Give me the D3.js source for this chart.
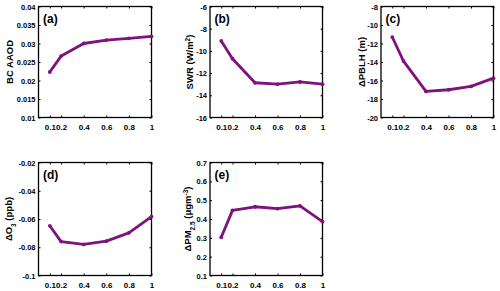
<!DOCTYPE html>
<html>
<head>
<meta charset="utf-8">
<script src="https://cdn.jsdelivr.net/npm/d3@7/dist/d3.min.js"></script>
<style>
  html, body { margin: 0; padding: 0; background: #fff; }
  svg { display: block; font-family: "Liberation Sans", Arial, Helvetica, sans-serif; font-weight: bold; }
</style>
</head>
<body>
<svg id="chart" width="500" height="291"></svg>
<script>
// ---- data ----
const xValues = [0.1, 0.2, 0.4, 0.6, 0.8, 1];
const xTicks = [0.1, 0.2, 0.4, 0.6, 0.8, 1];
const xTickLabels = ["0.1", "0.2", "0.4", "0.6", "0.8", "1"];

const bcAAOD = [0.0223, 0.0266, 0.0300, 0.0309, 0.0314, 0.0319];
const swr    = [-9.1, -10.7, -12.87, -13.0, -12.8, -13.0];
const dPBLH  = [-11.3, -13.9, -17.18, -17.0, -16.64, -15.75];
const dO3    = [-0.0648, -0.0760, -0.0780, -0.0757, -0.0698, -0.0583];
const dPM25  = [0.303, 0.446, 0.465, 0.455, 0.470, 0.386];

const yTicksA = [0.01, 0.015, 0.02, 0.025, 0.03, 0.035, 0.04];
const yTicksB = [-16, -14, -12, -10, -8, -6];
const yTicksC = [-20, -18, -16, -14, -12, -10, -8];
const yTicksD = [-0.1, -0.08, -0.06, -0.04, -0.02];
const yTicksE = [0.1, 0.2, 0.3, 0.4, 0.5, 0.6, 0.7];

const panelLabels = ["(a)", "(b)", "(c)", "(d)", "(e)"];

// ---- layout ----
const svg = d3.select("#chart");
const lineColor = "#7e127e";

const panels = [
  { label: panelLabels[0], values: bcAAOD, ticks: yTicksA, box: [38.5, 151.5, 6.5, 117.5], ylab: [{t: "BC AAOD"}], ylx: 10 },
  { label: panelLabels[1], values: swr,    ticks: yTicksB, box: [210, 322.5, 6.5, 117.5], ylab: [{t: "SWR (W/m"}, {t: "2", sup: true}, {t: ")"}], ylx: 190 },
  { label: panelLabels[2], values: dPBLH,  ticks: yTicksC, box: [381, 493.5, 6.5, 117.5], ylab: [{t: "\u0394PBLH (m)"}], ylx: 362 },
  { label: panelLabels[3], values: dO3,    ticks: yTicksD, box: [38.5, 151.5, 162.5, 275.5], ylab: [{t: "\u0394O"}, {t: "3", sub: true}, {t: " (ppb)"}], ylx: 9 },
  { label: panelLabels[4], values: dPM25,  ticks: yTicksE, box: [210, 322.5, 162.5, 275.5], ylab: [{t: "\u0394PM"}, {t: "2.5", sub: true}, {t: " (\u03bcgm"}, {t: "-3", sup: true}, {t: ")"}], ylx: 188 }
];

const fmt = v => String(+v.toFixed(6));

panels.forEach(p => {
  const [x0, x1, y0, y1] = p.box;
  const x = d3.scaleLinear().domain([0, 1]).range([x0, x1]);
  const y = d3.scaleLinear().domain(d3.extent(p.ticks)).range([y1, y0]);
  const g = svg.append("g");

  // bottom axis
  const bottom = g.append("g").attr("transform", `translate(0,${y1})`)
    .call(d3.axisBottom(x).tickValues(xTicks).tickSizeInner(-2).tickSizeOuter(0)
      .tickFormat((d, i) => xTickLabels[i]));
  bottom.selectAll("text").attr("dy", null).attr("y", 12.5).style("font-size", "8px").style("font-weight", "bold").style("font-family", "inherit");
  // top axis ticks
  g.append("g").attr("transform", `translate(0,${y0})`)
    .call(d3.axisTop(x).tickValues(xTicks).tickSizeInner(-2).tickSizeOuter(0).tickFormat(""));
  // left axis
  const left = g.append("g").attr("transform", `translate(${x0},0)`)
    .call(d3.axisLeft(y).tickValues(p.ticks).tickSizeInner(-2).tickSizeOuter(0).tickFormat(fmt));
  left.selectAll("text").attr("x", -3).attr("dy", "0.35em").style("font-size", "7.5px").style("font-weight", "bold").style("font-family", "inherit");
  // right axis ticks
  g.append("g").attr("transform", `translate(${x1},0)`)
    .call(d3.axisRight(y).tickValues(p.ticks).tickSizeInner(-2).tickSizeOuter(0).tickFormat(""));

  g.selectAll(".domain").remove();
  g.selectAll(".tick line").attr("stroke", "#000").attr("stroke-width", 1);

  // box
  g.append("rect").attr("x", x0).attr("y", y0).attr("width", x1 - x0).attr("height", y1 - y0)
    .attr("fill", "none").attr("stroke", "#000").attr("stroke-width", 1.3);

  // data line
  const pts = xValues.map((xv, i) => [xv, p.values[i]]);
  g.append("path").datum(pts)
    .attr("fill", "none").attr("stroke", lineColor).attr("stroke-width", 2.8)
    .attr("stroke-linejoin", "round")
    .attr("d", d3.line().x(d => x(d[0])).y(d => y(d[1])));
  g.selectAll("circle.pt").data(pts).enter().append("circle")
    .attr("class", "pt").attr("cx", d => x(d[0])).attr("cy", d => y(d[1])).attr("r", 1.9)
    .attr("fill", lineColor);

  // panel label
  g.append("text").attr("x", x0 + 4.5).attr("y", y0 + 16)
    .style("font-size", "12px").text(p.label);

  // y label
  const yc = (y0 + y1) / 2;
  const t = g.append("text").attr("transform", `translate(${p.ylx},${yc}) rotate(-90)`)
    .attr("text-anchor", "middle").attr("dy", "0.35em").style("font-size", "9.5px");
  p.ylab.forEach(part => {
    const ts = t.append("tspan").text(part.t);
    if (part.sup) ts.attr("baseline-shift", "super").style("font-size", "6.5px");
    if (part.sub) ts.attr("baseline-shift", "sub").style("font-size", "6.5px");
  });
});
</script>
</body>
</html>
